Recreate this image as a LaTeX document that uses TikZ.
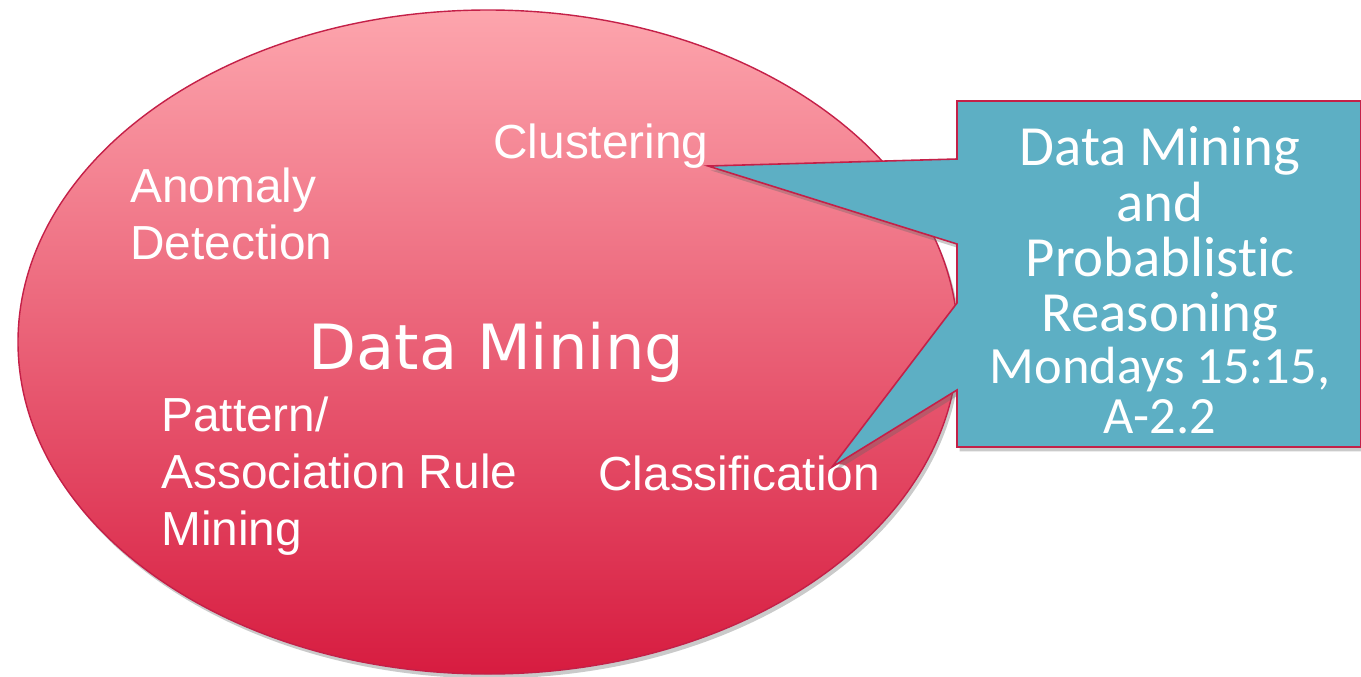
\documentclass[tikz,border=0pt]{standalone}
\usepackage{xcolor}
\usepackage{fontspec}
\setmainfont{Liberation Sans}
\newfontfamily\bigfont{DejaVu Sans}
\newfontfamily\boxfont[Ligatures=NoCommon]{Carlito}
\usepackage{tikz}
\usetikzlibrary{calc}
\usetikzlibrary{shapes,positioning,shadows}
\definecolor{pinktop}{RGB}{253,165,173}
\definecolor{redbottom}{RGB}{215,28,64}
\definecolor{rimred}{RGB}{196,32,72}
\definecolor{tealbox}{RGB}{93,175,196}

\begin{document}
\begin{tikzpicture}[x=0.02cm,y=-0.02cm,
	topic/.style={text=white,font=\fontsize{27.2}{32.3}\selectfont,align=left,anchor=base west,inner sep=0pt},
	softshadow/.style={drop shadow={shadow xshift=1.5pt,shadow yshift=-2.5pt,opacity=.35,fill=black!60}}]
	\useasboundingbox (0,0) rectangle (1361,676);
	\path[draw=rimred,line width=0.8pt,top color=pinktop,bottom color=redbottom,softshadow] (488,342) ellipse [x radius=470, y radius=332];
	% multi-line nodes sit on their last baseline
	\node[topic] (clustering) at (493,158) {Clustering};
	\node[topic] (anomaly) at (130,259) {Anomaly\\Detection};
	\node[text=white,font=\bigfont\fontsize{35.5}{40}\selectfont,anchor=base west,inner sep=0pt] (dm) at (308,369) {Data Mining};
	\node[topic] (pattern) at (161,545) {Pattern/\\Association Rule\\Mining};
	\node[topic] (classification) at (598,490) {Classification};
	\coordinate (clusterTip) at (708,166);
	\coordinate (classTip) at (832,467);
	\coordinate (nw) at (957,101);
	\coordinate (se) at (1361,447);
	\path[fill=tealbox,draw=rimred,line width=0.9pt,line join=miter,softshadow]
		(nw) -- (se |- nw) -- (se) -- (nw |- se) -- (957,390) -- (classTip) -- (957,303)
		-- (957,244) -- (clusterTip) -- (957,159) -- cycle;
	\node[text=white,align=center,inner sep=0pt,anchor=base,font=\boxfont\fontsize{32.3}{31.5}\selectfont] (talk) at (1160,433)
		{Data Mining\\and\\Probablistic\\Reasoning\\[-2pt]
		\fontsize{29.8}{28}\selectfont Mondays 15:15,\\[-3.5pt]\fontsize{29.8}{26.5}\selectfont A-2.2};
\end{tikzpicture}
\end{document}
